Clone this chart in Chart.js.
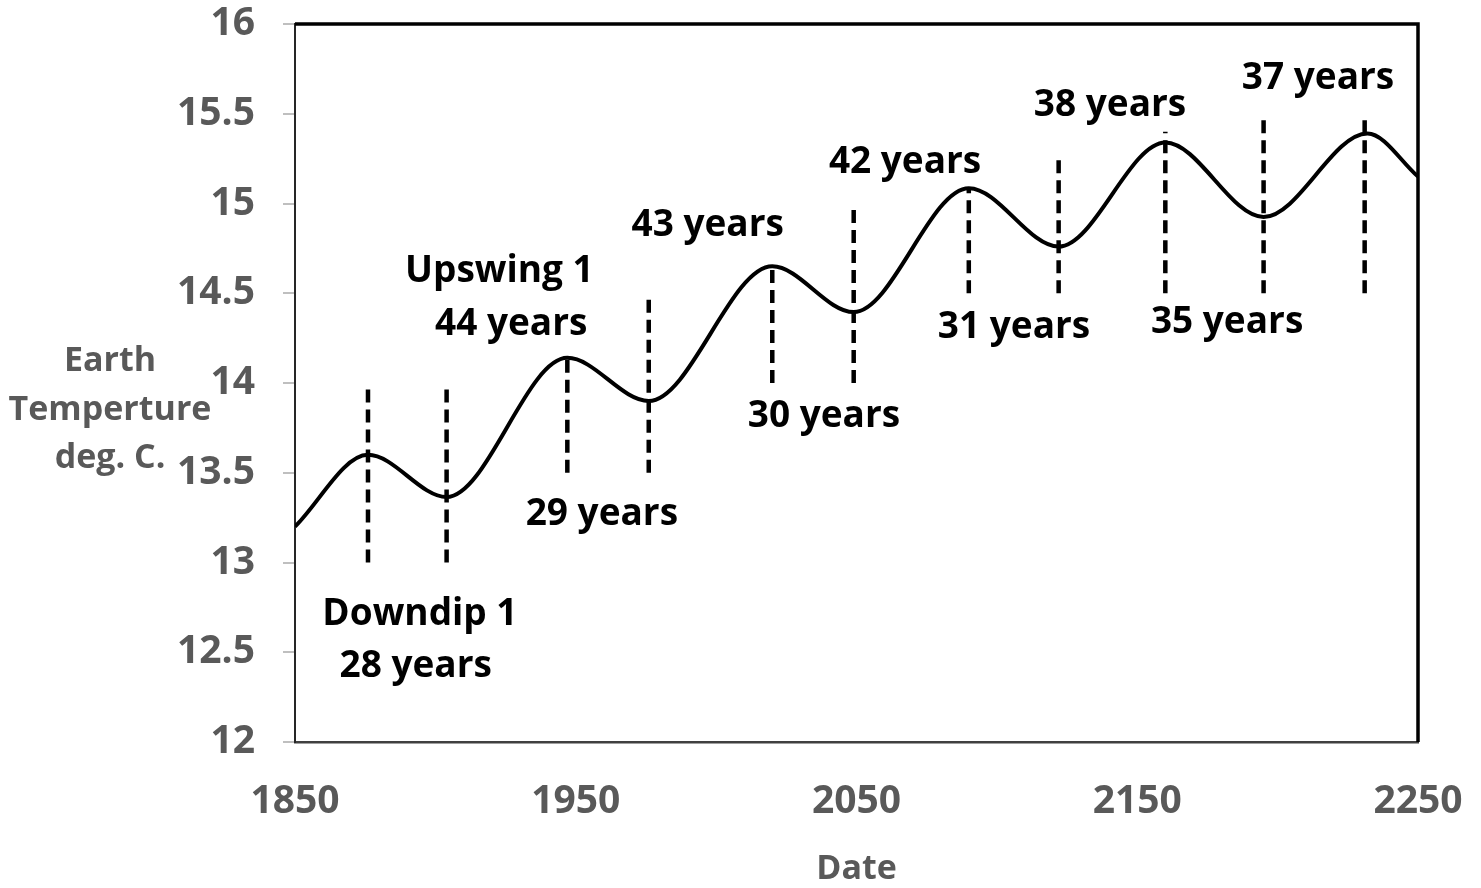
<!DOCTYPE html>
<html>
<head>
<meta charset="utf-8">
<script src="https://cdn.jsdelivr.net/npm/chart.js@4/dist/chart.umd.min.js"></script>
<style>
  body { margin: 0; background: #fff; }
  #wrap { width: 1481px; height: 888px; position: relative; }
</style>
</head>
<body>
<div id="wrap"><canvas id="myChart"></canvas></div>
<script>
// curve: start, each peak / trough, end (year, deg C)
const years = [1850, 1876, 1904, 1947, 1976, 2020, 2049, 2090, 2122, 2160, 2195, 2232, 2250];
const temps = [13.20, 13.60, 13.365, 14.14, 13.90, 14.65, 14.395, 15.085, 14.76, 15.34, 14.925, 15.39, 15.15];

// dashed markers at peaks and troughs
const markerYears = [1876, 1904, 1947, 1976, 2020, 2049, 2090, 2122, 2160, 2195, 2231];
const markerTop = [14.0, 14.0, 14.14, 14.5, 14.65, 15.0, 15.085, 15.27, 15.4, 15.5, 15.5];
const markerBottom = [13.0, 13.0, 13.5, 13.5, 14.0, 14.0, 14.5, 14.5, 14.5, 14.5, 14.5];

// text labels (centre year, baseline temperature)
const labelTexts = ['Downdip 1', '28 years', 'Upswing 1', '44 years', '29 years', '43 years', '30 years', '42 years', '31 years', '38 years', '35 years', '37 years'];
const labelYears = [1894.5, 1893, 1922.8, 1927, 1959.3, 1997, 2038.4, 2067.3, 2106.1, 2140.3, 2182, 2214.4];
const labelTemps = [12.65, 12.36, 14.56, 14.27, 13.21, 14.82, 13.755, 15.17, 14.25, 15.49, 14.28, 15.64];

const xTicks = [1850, 1950, 2050, 2150, 2250];
const yTicks = [12, 12.5, 13, 13.5, 14, 14.5, 15, 15.5, 16];
const yTitle = ['Earth', 'Temperture', 'deg. C.'];

const FONT = "'Open Sans', 'DejaVu Sans', sans-serif";
const GREY = '#595959';

const datasets = markerYears.map((yr, i) => ({
  data: [{ x: yr, y: markerBottom[i] }, { x: yr, y: markerTop[i] }],
  borderColor: '#000',
  borderWidth: 4.5,
  borderDash: [13, 7],
  pointRadius: 0,
  fill: false
}));
datasets.push({
  data: years.map((yr, i) => ({ x: yr, y: temps[i] })),
  borderColor: '#000',
  borderWidth: 4,
  pointRadius: 0,
  cubicInterpolationMode: 'monotone',
  fill: false
});

const extras = {
  id: 'extras',
  afterDatasetsDraw(chart) {
    const { ctx, chartArea: a, scales: { x, y } } = chart;
    ctx.save();
    // top and right frame
    ctx.strokeStyle = '#000';
    ctx.lineWidth = 3.5;
    ctx.beginPath();
    ctx.moveTo(a.left, a.top);
    ctx.lineTo(a.right, a.top);
    ctx.lineTo(a.right, a.bottom);
    ctx.stroke();

    // annotations
    ctx.fillStyle = '#000';
    ctx.font = "bold 37px " + FONT;
    ctx.textAlign = 'center';
    ctx.textBaseline = 'alphabetic';
    labelTexts.forEach((t, i) => {
      ctx.fillText(t, x.getPixelForValue(labelYears[i]), y.getPixelForValue(labelTemps[i]));
    });

    // horizontal y axis title
    ctx.fillStyle = GREY;
    ctx.font = "bold 34px " + FONT;
    yTitle.forEach((t, i) => {
      ctx.fillText(t, a.left - 185, 371 + i * 48.5);
    });
    ctx.restore();
  }
};

const ctx = document.getElementById('myChart').getContext('2d');
new Chart(ctx, {
  type: 'line',
  data: { datasets: datasets },
  options: {
    responsive: true,
    maintainAspectRatio: false,
    animation: false,
    layout: { padding: { top: 24, right: 63, left: 0, bottom: 0 } },
    plugins: {
      legend: { display: false },
      tooltip: { enabled: false }
    },
    scales: {
      x: {
        type: 'linear',
        min: 1850,
        max: 2250,
        afterBuildTicks: s => { s.ticks = xTicks.map(v => ({ value: v })); },
        afterFit: s => { s.height = 146; },
        // invisible tick marks only used to push the labels down
        grid: { drawOnChartArea: false, drawTicks: true, tickLength: 36, color: 'rgba(0,0,0,0)' },
        border: { color: '#404040', width: 2.5 },
        ticks: {
          padding: 0,
          color: GREY,
          font: { family: FONT, size: 39, weight: 'bold' },
          maxRotation: 0,
          callback: v => String(v)
        },
        title: {
          display: true,
          text: 'Date',
          color: GREY,
          font: { family: FONT, size: 34, weight: 'bold', lineHeight: 1 },
          padding: { top: 0, bottom: 2 }
        }
      },
      y: {
        min: 12,
        max: 16,
        afterBuildTicks: s => { s.ticks = yTicks.map(v => ({ value: v })); },
        afterFit: s => { s.width = 295; },
        // long tick so labels sit off the axis; only the 12px next to the axis is drawn
        grid: { drawOnChartArea: false, drawTicks: true, tickLength: 40, color: '#bfbfbf', lineWidth: 2, tickBorderDash: [0, 28, 12, 200] },
        border: { color: '#262626', width: 2 },
        ticks: {
          padding: 0,
          color: GREY,
          font: { family: FONT, size: 39, weight: 'bold' },
          callback: v => String(v)
        }
      }
    }
  },
  plugins: [extras]
});
</script>
</body>
</html>
